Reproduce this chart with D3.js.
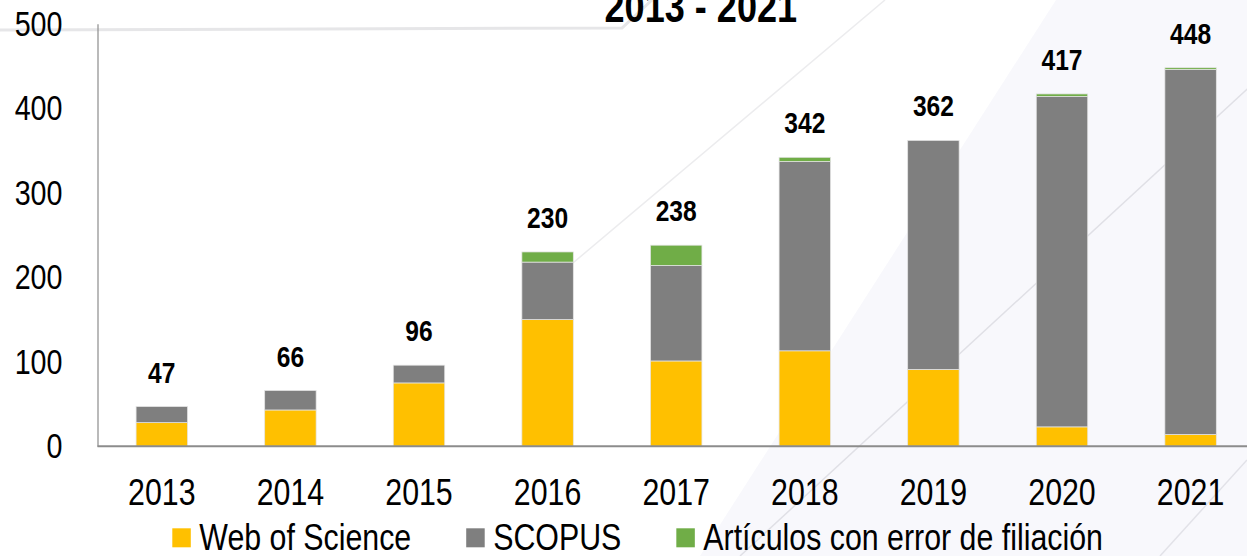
<!DOCTYPE html>
<html>
<head>
<meta charset="utf-8">
<script src="https://cdn.jsdelivr.net/npm/d3@7"></script>
<style>
  html, body { margin: 0; padding: 0; background: #ffffff; }
  #chart { width: 1247px; height: 556px; overflow: hidden; }
</style>
</head>
<body>
<div id="chart"></div>
<script>
// datos
var years = ["2013", "2014", "2015", "2016", "2017", "2018", "2019", "2020", "2021"];
var wos = [28, 43, 75, 150, 101, 113, 91, 23, 14];
var scopus = [19, 23, 21, 68, 113, 224, 271, 391, 432];
var errores = [0, 0, 0, 12, 24, 5, 0, 3, 2];
var totals = [47, 66, 96, 230, 238, 342, 362, 417, 448];
var yTicks = [0, 100, 200, 300, 400, 500];
var seriesNames = ["Web of Science", "SCOPUS", "Artículos con error de filiación"];
var seriesKeys = ["wos", "scopus", "err"];
var seriesColors = ["#FFC000", "#7F7F7F", "#70AD47"];
var titleText = "2013 - 2021";

// comprobar si existe la fuente estrecha
function hasFont(name) {
    var c = document.createElement("canvas").getContext("2d");
    c.font = "40px monospace";
    var a = c.measureText("Web of Science 2013").width;
    c.font = "40px '" + name + "', monospace";
    var b = c.measureText("Web of Science 2013").width;
    return a !== b;
}
var narrow = hasFont("Liberation Sans Narrow");
var FONT = narrow ? "'Liberation Sans Narrow', 'Arial Narrow', sans-serif" : "'Liberation Sans', Arial, sans-serif";
var SX = narrow ? 1 : 0.82;

var W = 1247, H = 556;
var svg = d3.select("#chart").append("svg")
    .attr("width", W)
    .attr("height", H);

// fondo (decoración de la diapositiva)
var bg = svg.append("g");
bg.append("rect").attr("width", W).attr("height", H).attr("fill", "#ffffff");
bg.append("path")
    .attr("d", "M1056,0 L1247,0 L1247,556 L700,556 Z")
    .attr("fill", "#f8f8fc");
bg.append("path")
    .attr("d", "M0,30 L622,28 L652,0")
    .attr("fill", "none")
    .attr("stroke", "#e6e6e8")
    .attr("stroke-width", 3);
bg.append("line")
    .attr("x1", 740).attr("y1", 556).attr("x2", 1344).attr("y2", 0)
    .attr("stroke", "#e0e0e6").attr("stroke-width", 1.5);
bg.append("line")
    .attr("x1", 529).attr("y1", 300).attr("x2", 885).attr("y2", 0)
    .attr("stroke", "#ececee").attr("stroke-width", 1.5);
bg.append("line")
    .attr("x1", 1160).attr("y1", 556).attr("x2", 1247).attr("y2", 460)
    .attr("stroke", "#e2e2e8").attr("stroke-width", 1.5);

// escalas
var x = d3.scaleBand()
    .domain(years)
    .range([97.5, 1254.9])
    .paddingInner(0.6)
    .paddingOuter(0.3);
var y = d3.scaleLinear()
    .domain([0, 500])
    .range([446.3, 23.8]);

// datos apilados
var rows = years.map(function (d, i) {
    return { year: d, wos: wos[i], scopus: scopus[i], err: errores[i] };
});
var stacked = d3.stack().keys(seriesKeys)(rows);

var gBars = svg.append("g").attr("class", "bars");
gBars.selectAll("g")
    .data(stacked)
    .enter()
    .append("g")
    .attr("fill", function (d, i) { return seriesColors[i]; })
    .selectAll("rect")
    .data(function (d) { return d.filter(function (s) { return s[1] > s[0]; }); })
    .enter()
    .append("rect")
    .attr("x", function (d) { return x(d.data.year); })
    .attr("y", function (d) { return y(d[1]); })
    .attr("width", x.bandwidth())
    .attr("height", function (d) { return y(d[0]) - y(d[1]); })
    .attr("stroke", "#e4e4e4")
    .attr("stroke-width", 0.75);

// eje Y
var gy = svg.append("g")
    .attr("transform", "translate(97.5,0)")
    .call(d3.axisLeft(y).tickValues(yTicks).tickSize(0).tickPadding(35));
gy.select(".domain").attr("stroke", "#8c8c8c").attr("stroke-width", 1.2);
gy.selectAll("text")
    .attr("font-family", FONT)
    .attr("font-size", "35px")
    .attr("fill", "#000")
    .attr("x", -35 / SX)
    .attr("transform", "scale(" + SX + ",1)");

// eje X
var gx = svg.append("g")
    .attr("transform", "translate(0," + y(0) + ")")
    .call(d3.axisBottom(x).tickSize(0).tickPadding(32.4));
gx.select(".domain")
    .attr("d", "M97.5,0H" + W)
    .attr("stroke", "#8c8c8c")
    .attr("stroke-width", 2);
gx.selectAll("text")
    .attr("font-family", FONT)
    .attr("font-size", "37px")
    .attr("fill", "#000")
    .attr("transform", "scale(" + SX + ",1)")
    .attr("x", 0);

// helper de texto
function addText(g, tx, ty, txt, size, weight, anchor) {
    return g.append("text")
        .attr("transform", "translate(" + tx + "," + ty + ") scale(" + SX + ",1)")
        .attr("font-family", FONT)
        .attr("font-size", size + "px")
        .attr("font-weight", weight)
        .attr("text-anchor", anchor)
        .attr("fill", "#000")
        .text(txt);
}

// etiquetas de totales
var gLab = svg.append("g").attr("class", "totals");
years.forEach(function (yr, i) {
    addText(gLab, x(yr) + x.bandwidth() / 2, y(totals[i]) - 24, totals[i], 30, "bold", "middle");
});

// título (recortado arriba)
addText(svg, 700.8, 21.7, titleText, 44, "bold", "middle");

// leyenda
var gLeg = svg.append("g").attr("class", "legend");
var lx = 172.3;
seriesNames.forEach(function (name, i) {
    gLeg.append("rect")
        .attr("x", lx)
        .attr("y", 528.3)
        .attr("width", 18.5)
        .attr("height", 19)
        .attr("fill", seriesColors[i]);
    var t = addText(gLeg, lx + 27, 550, name, 37, "normal", "start");
    var w = t.node().getComputedTextLength() * SX;
    lx = lx + 27 + w + 55;
});
</script>
</body>
</html>
